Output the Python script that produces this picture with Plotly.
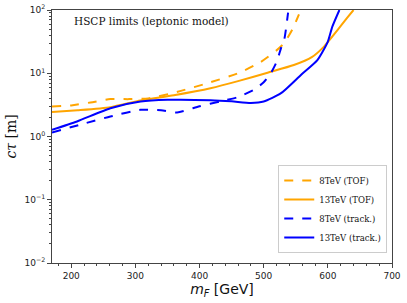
import plotly.graph_objects as go

# 8 TeV (TOF)
m_tof8 = [170, 200, 230, 261, 290, 320, 366, 417, 460, 495, 520, 532, 545, 555]
ct_tof8 = [2.98, 3.1, 3.45, 3.9, 3.9, 4.0, 5.1, 7.2, 10.0, 15.0, 23.0, 30.0, 50.0, 85.0]

# 13 TeV (TOF)
m_tof13 = [170, 210, 261, 308, 360, 417, 460, 506, 547, 575, 594, 615, 630, 640]
ct_tof13 = [2.43, 2.6, 2.91, 3.7, 4.5, 5.8, 7.5, 10.2, 13.5, 18.0, 26.4, 48.0, 75.0, 100.0]

# 8 TeV (track.)
m_trk8 = [170, 220, 261, 308, 340, 365, 400, 433, 460, 485, 500, 511, 520, 527, 532, 538]
ct_trk8 = [1.16, 1.6, 2.07, 2.64, 2.6, 2.4, 3.0, 3.6, 4.2, 5.5, 7.2, 10.0, 15.0, 25.0, 34.0, 91.0]

# 13 TeV (track.)
m_trk13 = [170, 209, 261, 308, 350, 417, 450, 480, 500, 527, 558, 584, 600, 607, 618]
ct_trk13 = [1.28, 1.73, 2.8, 3.57, 3.8, 3.75, 3.6, 3.4, 3.57, 4.84, 9.4, 16.3, 31.7, 54.6, 100.0]

series = [
    ("8TeV (TOF)", m_tof8, ct_tof8, "#FFA500", "dash"),
    ("13TeV (TOF)", m_tof13, ct_tof13, "#FFA500", "solid"),
    ("8TeV (track.)", m_trk8, ct_trk8, "#0000FF", "dash"),
    ("13TeV (track.)", m_trk13, ct_trk13, "#0000FF", "solid"),
]

y_tickvals = [0.01, 0.1, 1, 10, 100]
y_ticktext = ["10<sup>−2</sup>", "10<sup>−1</sup>", "10<sup>0</sup>", "10<sup>1</sup>", "10<sup>2</sup>"]
y_minor = [k * 10.0 ** e for e in (-2, -1, 0, 1) for k in range(2, 10)]
x_tickvals = [200, 300, 400, 500, 600, 700]
x_minor = list(range(180, 700, 20))

fig = go.Figure()
for name, x, y, c, d in series:
    fig.add_trace(go.Scatter(x=x, y=y, mode="lines", name=name,
                             line=dict(color=c, dash=d, width=2, shape="spline", smoothing=0.6)))

axis_common = dict(showline=True, linecolor="#444", linewidth=1, mirror=True,
                   showgrid=False, zeroline=False, ticks="outside", ticklen=4,
                   tickcolor="#444", automargin=False,
                   tickfont=dict(family="DejaVu Sans", size=9, color="#222"))

fig.update_xaxes(range=[170, 700], tickvals=x_tickvals,
                 minor=dict(ticks="outside", ticklen=2, tickvals=x_minor, tickcolor="#444"),
                 title=dict(text="<i>m<sub>F</sub></i> [GeV]", font=dict(family="DejaVu Sans", size=14, color="#111"), standoff=2),
                 **axis_common)
fig.update_yaxes(type="log", range=[-2, 2], tickvals=y_tickvals, ticktext=y_ticktext,
                 minor=dict(ticks="outside", ticklen=2, tickvals=y_minor, tickcolor="#444"),
                 title=dict(text="<i>cτ</i> [m]", font=dict(family="DejaVu Serif", size=14, color="#111"), standoff=4),
                 **axis_common)

fig.add_annotation(text="HSCP limits (leptonic model)", xref="paper", yref="paper",
                   x=0.058, y=0.955, xanchor="left", yanchor="middle", showarrow=False,
                   font=dict(family="DejaVu Serif", size=10.5, color="#111"))

fig.update_layout(width=407, height=303, margin=dict(l=52, r=15, t=10, b=40),
                  plot_bgcolor="white", paper_bgcolor="white",
                  legend=dict(x=0.986, y=0.04, xanchor="right", yanchor="bottom",
                              bgcolor="white", bordercolor="#ccc", borderwidth=1,
                              font=dict(family="DejaVu Serif", size=8.5, color="#111"),
                              itemwidth=30, tracegroupgap=0))

fig.write_html("out.html", config={"displayModeBar": False},
               post_script="document.body.style.margin='0';document.body.style.overflow='hidden';")
